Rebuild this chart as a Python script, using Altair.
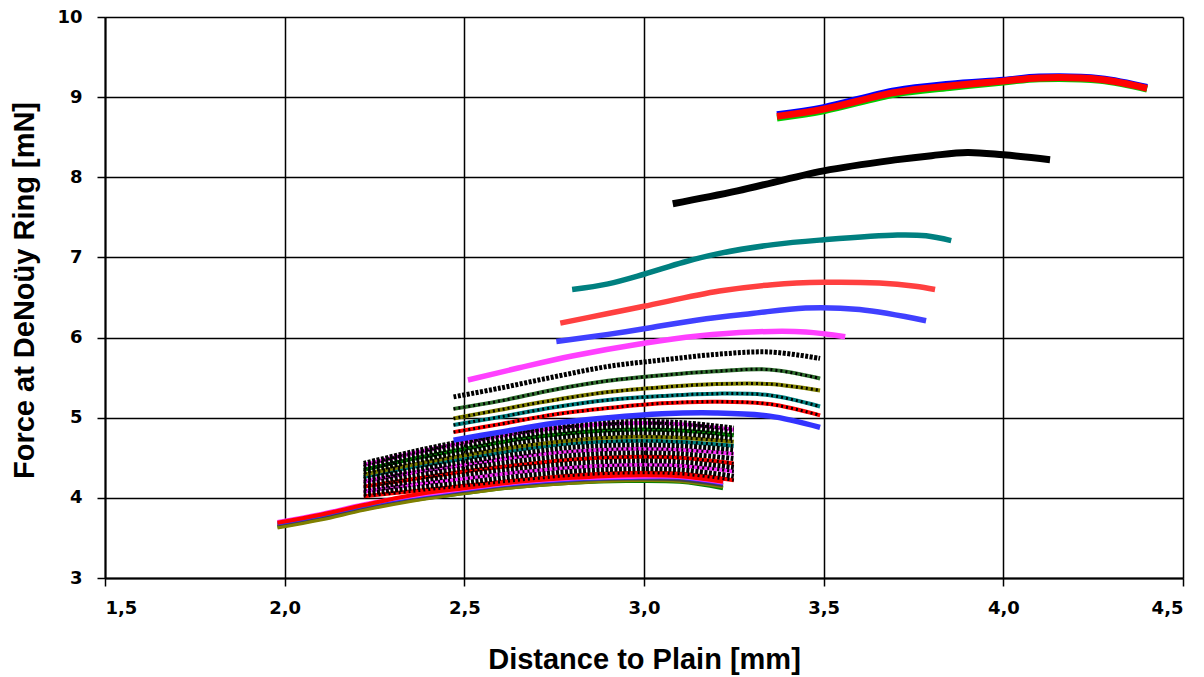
import altair as alt
import pandas as pd

# ---- data ----
# top triple (blue / green / red overlapping)
top_x = [3.37, 3.5, 3.7, 3.85, 4.0, 4.1, 4.27, 4.40]
top_blue_y = [8.78, 8.87, 9.08, 9.16, 9.21, 9.25, 9.23, 9.12]
top_green_y = [8.74, 8.83, 9.04, 9.12, 9.19, 9.23, 9.21, 9.10]
top_red_y = [8.76, 8.85, 9.06, 9.14, 9.20, 9.24, 9.22, 9.11]

black_x = [3.08, 3.26, 3.5, 3.705, 3.8, 3.9, 4.0, 4.13]
black_y = [7.67, 7.83, 8.08, 8.22, 8.27, 8.31, 8.28, 8.22]

teal_x = [2.80, 2.9, 3.0, 3.11, 3.21, 3.36, 3.5, 3.705, 3.785, 3.855]
teal_y = [6.60, 6.67, 6.79, 6.94, 7.05, 7.16, 7.22, 7.28, 7.27, 7.21]

red_x = [2.767, 2.9, 3.0, 3.21, 3.357, 3.5, 3.655, 3.755, 3.81]
red_y = [6.18, 6.30, 6.39, 6.58, 6.66, 6.69, 6.68, 6.64, 6.60]

blue_x = [2.756, 2.9, 3.0, 3.15, 3.3, 3.45, 3.6, 3.785]
blue_y = [5.95, 6.04, 6.11, 6.22, 6.30, 6.37, 6.35, 6.21]

mag_x = [2.51, 2.65, 2.8, 3.0, 3.15, 3.3, 3.45, 3.56]
mag_y = [5.47, 5.62, 5.77, 5.93, 6.02, 6.07, 6.07, 6.01]

# group starting near 2.5 and ending near 3.5
g25_x = [2.47, 2.6, 2.75, 2.9, 3.05, 3.2, 3.35, 3.49]
g25_blue = [4.72, 4.82, 4.93, 5.00, 5.05, 5.06, 5.02, 4.88]
g25_red = [4.82, 4.92, 5.04, 5.12, 5.18, 5.20, 5.17, 5.03]
g25_teal = [4.91, 5.01, 5.13, 5.22, 5.27, 5.30, 5.28, 5.14]
g25_olive = [4.99, 5.10, 5.22, 5.32, 5.38, 5.42, 5.42, 5.34]
g25_green = [5.11, 5.21, 5.35, 5.46, 5.53, 5.58, 5.60, 5.49]
g25_black = [5.26, 5.37, 5.51, 5.64, 5.72, 5.79, 5.82, 5.74]

# dense band starting near 2.22
band_x = [2.22, 2.35, 2.5, 2.65, 2.8, 2.95, 3.1, 3.25]
band_y = [
    [4.02, 4.08, 4.15, 4.22, 4.28, 4.31, 4.30, 4.22],
    [4.05, 4.12, 4.19, 4.27, 4.33, 4.36, 4.35, 4.27],
    [4.08, 4.16, 4.24, 4.32, 4.38, 4.41, 4.40, 4.33],
    [4.11, 4.20, 4.29, 4.37, 4.43, 4.46, 4.45, 4.38],
    [4.14, 4.23, 4.33, 4.41, 4.48, 4.51, 4.50, 4.43],
    [4.17, 4.27, 4.37, 4.46, 4.53, 4.56, 4.55, 4.49],
    [4.20, 4.31, 4.41, 4.51, 4.58, 4.61, 4.60, 4.55],
    [4.23, 4.34, 4.45, 4.55, 4.63, 4.66, 4.65, 4.60],
    [4.26, 4.38, 4.49, 4.60, 4.68, 4.71, 4.70, 4.65],
    [4.29, 4.41, 4.53, 4.64, 4.72, 4.76, 4.75, 4.70],
    [4.32, 4.45, 4.57, 4.69, 4.77, 4.81, 4.80, 4.74],
    [4.35, 4.48, 4.61, 4.73, 4.81, 4.85, 4.84, 4.78],
    [4.38, 4.52, 4.65, 4.77, 4.85, 4.89, 4.88, 4.82],
    [4.41, 4.55, 4.69, 4.81, 4.89, 4.93, 4.92, 4.85],
    [4.43, 4.57, 4.71, 4.83, 4.91, 4.95, 4.94, 4.87],
]
band_colors = ["#FF0000", "#000000", "#FF33FF", "#000000", "#FF0000", "#000000",
               "#FF33FF", "#000000", "#008080", "#808000", "#000000", "#008000",
               "#000000", "#FF33FF", "#000000"]

# lower group starting near 2.0
low_x = [1.98, 2.1, 2.22, 2.35, 2.5, 2.65, 2.8, 2.95, 3.1, 3.22]
low_y = [
    [3.64, 3.74, 3.86, 3.97, 4.06, 4.14, 4.19, 4.21, 4.20, 4.12],
    [3.63, 3.73, 3.85, 3.96, 4.06, 4.14, 4.19, 4.22, 4.21, 4.14],
    [3.67, 3.77, 3.89, 4.00, 4.09, 4.17, 4.22, 4.24, 4.23, 4.16],
    [3.68, 3.78, 3.90, 4.01, 4.10, 4.18, 4.23, 4.25, 4.25, 4.18],
    [3.70, 3.80, 3.92, 4.02, 4.11, 4.19, 4.24, 4.26, 4.26, 4.19],
    [3.69, 3.79, 3.91, 4.03, 4.12, 4.20, 4.25, 4.28, 4.27, 4.20],
]
low_colors = ["#008000", "#808000", "#404040", "#3333FF", "#FF33FF", "#FF0000"]

# ---- assemble table ----
rows = []
names, colors = [], []


def add(name, xs, ys, color, style):
    names.append(name)
    colors.append(color)
    for i, (xv, yv) in enumerate(zip(xs, ys)):
        rows.append({"series": name, "x": xv, "y": yv, "i": i, "style": style})


for k, (ys, c) in enumerate(zip(low_y, low_colors)):
    add(f"low{k:02d}", low_x, ys, c, "band")
for k, (ys, c) in enumerate(zip(band_y, band_colors)):
    add(f"band{k:02d}", band_x, ys, c, "dash" if c == "#000000" else "mix")
add("g25red", g25_x, g25_red, "#FF0000", "mix")
add("g25teal", g25_x, g25_teal, "#008080", "mix")
add("g25olive", g25_x, g25_olive, "#808000", "mix")
add("g25green", g25_x, g25_green, "#2F6F2F", "mix")
add("g25black", g25_x, g25_black, "#000000", "dash")
add("g25blue", g25_x, g25_blue, "#3333FF", "solid")
add("mag", mag_x, mag_y, "#FF40FF", "solid")
add("blue", blue_x, blue_y, "#4040FF", "solid")
add("red", red_x, red_y, "#FF4040", "solid")
add("teal", teal_x, teal_y, "#008080", "solid")
add("black", black_x, black_y, "#000000", "thick")
add("topblue", top_x, top_blue_y, "#0000FF", "thick")
add("topgreen", top_x, top_green_y, "#00CC00", "thick")
add("topred", top_x, top_red_y, "#FF0000", "thick")

df = pd.DataFrame(rows)

x_ticks = [1.5, 2.0, 2.5, 3.0, 3.5, 4.0, 4.5]
y_ticks = [3, 4, 5, 6, 7, 8, 9, 10]

xenc = alt.X("x:Q", scale=alt.Scale(domain=[1.5, 4.5], nice=False, zero=False),
             axis=alt.Axis(values=x_ticks, title="Distance to Plain [mm]",
                           labelExpr="replace(format(datum.value, '.1f'), '.', ',')"))
yenc = alt.Y("y:Q", scale=alt.Scale(domain=[3, 10], nice=False, zero=False),
             axis=alt.Axis(values=y_ticks, title="Force at DeNoüy Ring [mN]", format="d"))
cenc = alt.Color("series:N", scale=alt.Scale(domain=names, range=colors), legend=None)

base = alt.Chart(df).encode(x=xenc, y=yenc, color=cenc, order="i:Q", detail="series:N")
interp = "catmull-rom"

band = base.transform_filter(alt.datum.style == "band").mark_line(
    strokeWidth=4, interpolate=interp, strokeCap="butt")
mix = base.transform_filter(alt.datum.style == "mix").mark_line(
    strokeWidth=4, interpolate=interp, strokeCap="butt")
mix_dots = alt.Chart(df).transform_filter(alt.datum.style == "mix").mark_line(
    strokeWidth=3, interpolate=interp, strokeDash=[2, 3], strokeCap="butt",
    color="#000000").encode(x=xenc, y=yenc, order="i:Q", detail="series:N")
dash = base.transform_filter(alt.datum.style == "dash").mark_line(
    strokeWidth=5, interpolate=interp, strokeDash=[3, 1.5], strokeCap="butt")
solid = base.transform_filter(alt.datum.style == "solid").mark_line(
    strokeWidth=5.5, interpolate=interp, strokeCap="butt")
thick = base.transform_filter(alt.datum.style == "thick").mark_line(
    strokeWidth=7, interpolate=interp, strokeCap="butt")

chart = alt.layer(band, mix, mix_dots, dash, solid, thick).properties(
    width=1078, height=561,
    autosize=alt.AutoSizeParams(type="none"),
    padding={"left": 105, "top": 17, "right": 21, "bottom": 99},
).configure_view(strokeWidth=0).configure_axis(
    grid=True, gridColor="#000000", gridWidth=1.5, gridOpacity=1,
    domainColor="#000000", domainWidth=2,
    tickColor="#000000", tickSize=8, tickWidth=1.5,
    labelFont="DejaVu Sans", labelFontWeight="bold", labelFontSize=18,
    labelColor="#000000",
    titleFont="Liberation Sans", titleFontSize=29, titleColor="#000000",
    titleFontWeight="bold",
).configure_axisX(
    labelPadding=13, titleBaseline="alphabetic", titleY=90,
).configure_axisY(
    labelPadding=15, titleBaseline="alphabetic", titleX=-72, titleY=273,
    titleAlign="center",
)

chart.save("out.html", embed_options={"renderer": "svg", "actions": False})
